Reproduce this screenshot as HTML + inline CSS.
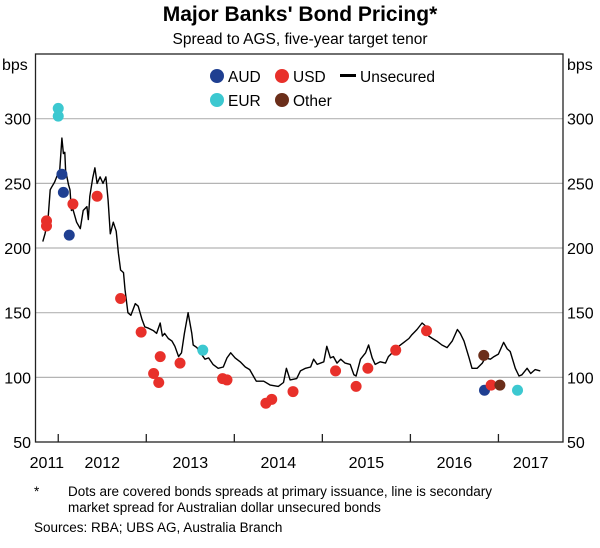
<!DOCTYPE html>
<html><head><meta charset="utf-8"><style>
body{margin:0;background:#fff;font-family:"Liberation Sans",Arial,sans-serif;}
svg text{font-family:"Liberation Sans",Arial,sans-serif;fill:#000;}
</style></head><body>
<svg id="chart" width="600" height="543" viewBox="0 0 600 543">
<text x="300" y="21" text-anchor="middle" font-size="21" font-weight="bold">Major Banks' Bond Pricing*</text>
<text x="300" y="44" text-anchor="middle" font-size="15.5">Spread to AGS, five-year target tenor</text>
<g id="grid"></g>
<g id="axes"></g>
<g id="series"></g>
<g id="dots"></g>
<g>
<circle cx="217" cy="76" r="7" fill="#1f3f91"/>
<text x="228" y="82" font-size="15.5">AUD</text>
<circle cx="282" cy="76" r="7" fill="#e8302a"/>
<text x="293" y="82" font-size="15.5">USD</text>
<rect x="340" y="74" width="16" height="3" fill="#000"/>
<text x="360" y="82" font-size="15.5">Unsecured</text>
<circle cx="217" cy="100" r="7" fill="#3cc8d0"/>
<text x="228" y="106" font-size="15.5">EUR</text>
<circle cx="282" cy="100" r="7" fill="#6b2e1a"/>
<text x="293" y="106" font-size="15.5">Other</text>
</g>
<g font-size="13.5">
<text x="34" y="496">*</text>
<text x="68" y="496">Dots are covered bonds spreads at primary issuance, line is secondary</text>
<text x="68" y="512">market spread for Australian dollar unsecured bonds</text>
<text x="34" y="532">Sources: RBA; UBS AG, Australia Branch</text>
</g>
</svg>
<script>
// months since Jan 2011 (tick positions) and spread in bps
const lineMonths=[-2.1,-1.8,-1.4,-1.1,-0.9,-0.5,0,0.2,0.5,0.7,0.9,1.0,1.4,1.6,1.8,2.0,2.5,3.0,3.4,3.9,4.1,4.3,4.7,5.0,5.3,5.7,6.1,6.5,6.8,7.1,7.5,7.9,8.2,8.5,8.9,9.1,9.5,9.9,10.5,10.9,11.4,11.8,12.3,13.0,13.4,13.9,14.2,14.5,15.0,15.5,15.9,16.4,16.8,17.2,17.7,18.2,18.4,18.9,19.5,20.0,20.5,21.1,21.8,22.5,23.0,23.5,24.1,24.8,25.5,26.1,27.0,28.0,28.9,30.0,30.7,31.1,31.6,32.5,33.0,33.7,34.4,34.8,35.3,36.2,36.6,37.1,37.5,38.0,38.5,39.1,39.8,40.3,40.6,41.2,41.9,42.3,42.8,43.2,43.9,44.6,45.0,45.7,46.4,47.1,47.8,48.2,48.9,49.6,50.0,50.5,51.0,51.6,52.3,53.0,53.7,54.4,54.8,55.3,56.0,56.4,57.1,57.8,58.2,58.9,59.4,60.0,60.7,61.2,61.6,62.3,62.8,63.2,63.9,64.4,65.0,65.7];
const lineValues=[205,211,222,245,247,251,258,260,285,273,274,260,249,245,229,230,220,215,229,232,222,240,254,262,250,255,250,255,237,211,220,213,196,183,181,168,150,148,157,155,145,139,138,136,134,142,132,134,130,128,124,116,119,134,150,134,125,123,118,114,115,110,107,108,115,119,115,112,108,106,97,97,94,93,96,107,98,99,105,107,108,114,110,112,124,115,116,111,114,111,110,102,101,114,119,125,115,110,112,111,116,120,124,127,130,133,137,142,140,132,130,128,125,123,128,137,134,128,115,107,107,111,115,114,116,118,127,122,120,107,101,102,107,103,106,105];
const dotMonths=[0,0,0.5,0.7,1.5,-1.6,-1.6,2.0,5.3,8.5,11.3,13.0,13.9,13.7,16.6,19.7,22.4,23.0,28.3,29.1,32.0,37.8,40.6,42.2,46.0,50.2,58.0,58.1,59.0,60.2,62.6];
const dotValues=[308,302,257,243,210,221,217,234,240,161,135,103,116,96,111,121,99,98,80,83,89,105,93,107,121,136,117,90,94,94,90];
const dotTypes=["EUR","EUR","AUD","AUD","AUD","USD","USD","USD","USD","USD","USD","USD","USD","USD","USD","EUR","USD","USD","USD","USD","USD","USD","USD","USD","USD","USD","Other","AUD","USD","Other","EUR"];
const yTicks=[50,100,150,200,250,300];
const yearTicks=[0,12,24,36,48,60];
const yearLabels=["2011","2012","2013","2014","2015","2016","2017"];
const colors={AUD:"#1f3f91",USD:"#e8302a",EUR:"#3cc8d0",Other:"#6b2e1a"};
const L=35.5,R=563,T=54,B=442;
const mMin=-3.1,mMax=68.8,vMin=50,vMax=300;
const x=m=>L+(m-mMin)/(mMax-mMin)*(R-L);
const y=v=>B-(v-vMin)/(vMax-vMin)*(B-118.7);
const NS="http://www.w3.org/2000/svg";
function mk(tag,attrs,parent){const e=document.createElementNS(NS,tag);for(const k in attrs)e.setAttribute(k,attrs[k]);parent.appendChild(e);return e;}
const grid=document.getElementById('grid'),axes=document.getElementById('axes');
yTicks.forEach(v=>{
  if(v>vMin){const g=mk('line',{x1:L,x2:R,y1:y(v),y2:y(v),stroke:'#b4b4b4','stroke-width':1.2},grid);
  
  }
  const tl=mk('text',{x:31,y:y(v)+6,'text-anchor':'end','font-size':16},axes);tl.textContent=v;
  
  
  const tr=mk('text',{x:567,y:y(v)+6,'font-size':16},axes);tr.textContent=v;
  
  
});
const f=mk('rect',{x:L,y:T,width:R-L,height:B-T,fill:'none',stroke:'#222','stroke-width':1.3},axes);


const u1=mk('text',{x:2,y:70,'font-size':16},axes);u1.textContent='bps';


const u2=mk('text',{x:567,y:70,'font-size':16},axes);u2.textContent='bps';


yearTicks.forEach(m=>{const t=mk('line',{x1:x(m),x2:x(m),y1:B,y2:B-8,stroke:'#222','stroke-width':1.3},axes);
  
  });
yearLabels.forEach((lab,i)=>{
  const a=i===0?mMin:yearTicks[i-1],b=i<yearTicks.length?yearTicks[i]:mMax;
  const t=mk('text',{x:x((a+b)/2),y:468,'text-anchor':'middle','font-size':16},axes);t.textContent=lab;
  
  
});
const pts=lineMonths.map((m,i)=>x(m).toFixed(1)+','+y(lineValues[i]).toFixed(1)).join(' ');
const pl=mk('polyline',{points:pts,fill:'none',stroke:'#000','stroke-width':1.4,'stroke-linejoin':'round'},document.getElementById('series'));


const dg=document.getElementById('dots');
dotMonths.forEach((m,i)=>{
  const c=mk('circle',{cx:x(m),cy:y(dotValues[i]),r:5.5,fill:colors[dotTypes[i]]},dg);
  
  
});
</script>
</body></html>
